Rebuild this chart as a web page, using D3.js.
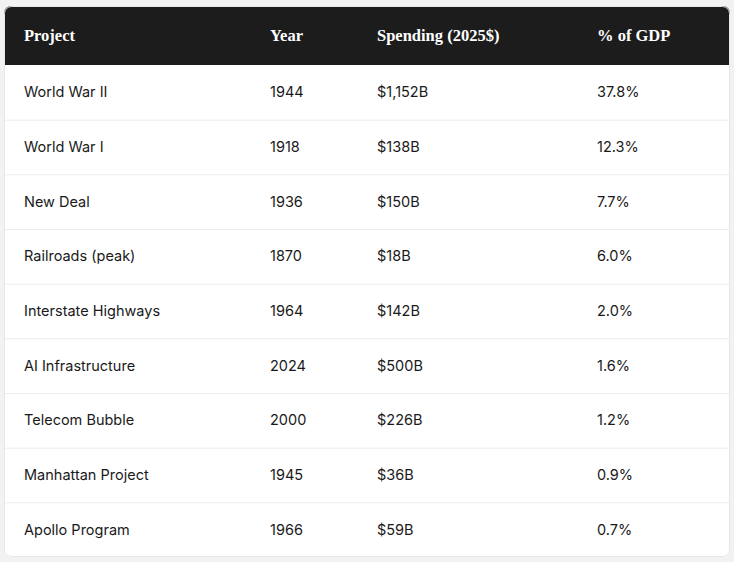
<!DOCTYPE html>
<html><head><meta charset="utf-8">
<script src="https://cdn.jsdelivr.net/npm/d3@7"></script>
<style>body{margin:0;background:#f2f2f2;}</style>
</head><body>
<svg id="c" width="734" height="562"></svg>
<script>
const headers = ["Project","Year","Spending (2025$)","% of GDP"];
const projects = ["World War II","World War I","New Deal","Railroads (peak)","Interstate Highways","AI Infrastructure","Telecom Bubble","Manhattan Project","Apollo Program"];
const years = [1944,1918,1936,1870,1964,2024,2000,1945,1966];
const spending = [1152,138,150,18,142,500,226,36,59];
const gdpPct = [37.8,12.3,7.7,6.0,2.0,1.6,1.2,0.9,0.7];

(function(){
const svg = d3.select("#c");
const x0=4, x1=730, y0=6, y1=557, headH=59;
const colX = d3.scaleOrdinal().domain(headers).range([24,270,377,597]);
const y = d3.scaleBand().domain(d3.range(projects.length)).range([y0+headH,y1]);

svg.append("defs").append("clipPath").attr("id","card").append("rect")
  .attr("x",x0).attr("y",y0).attr("width",x1-x0).attr("height",y1-y0).attr("rx",7);
const g = svg.append("g").attr("clip-path","url(#card)");
g.append("rect").attr("x",x0).attr("y",y0).attr("width",x1-x0).attr("height",y1-y0).attr("fill","#fff");
g.append("rect").attr("x",x0).attr("y",y0).attr("width",x1-x0).attr("height",headH).attr("fill","#1c1c1c");
g.selectAll("text.h").data(headers).join("text").attr("class","h")
  .attr("x",d=>colX(d)).attr("y",y0+headH/2).attr("dy","0.35em")
  .attr("fill","#fff").style("font-family","'Liberation Serif',serif").style("font-weight","bold").style("font-size","16.5px")
  .text(d=>d);

const fmt = d3.format(",");
const rows = projects.map((p,i)=>[p,String(years[i]),"$"+fmt(spending[i])+"B",gdpPct[i].toFixed(1)+"%"]);
g.selectAll("line.sep").data(d3.range(1,projects.length)).join("line").attr("class","sep")
  .attr("x1",x0).attr("x2",x1).attr("y1",i=>y(i)+0.5).attr("y2",i=>y(i)+0.5)
  .attr("stroke","#ececec");
const rg = g.selectAll("g.row").data(rows).join("g").attr("class","row")
  .attr("transform",(d,i)=>`translate(0,${y(i)+y.bandwidth()/2})`);
rg.selectAll("text").data(d=>d.map((v,j)=>({v,h:headers[j]}))).join("text")
  .attr("x",d=>colX(d.h)).attr("dy","0.35em").attr("fill","#1a1a1a")
  .style("font-family","Inter,sans-serif").style("font-size","14.5px")
  .text(d=>d.v);
svg.append("rect").attr("x",x0+0.5).attr("y",y0+0.5).attr("width",x1-x0-1).attr("height",y1-y0-1).attr("rx",7)
  .attr("fill","none").attr("stroke","#e6e6e6");
})();
</script>
</body></html>
